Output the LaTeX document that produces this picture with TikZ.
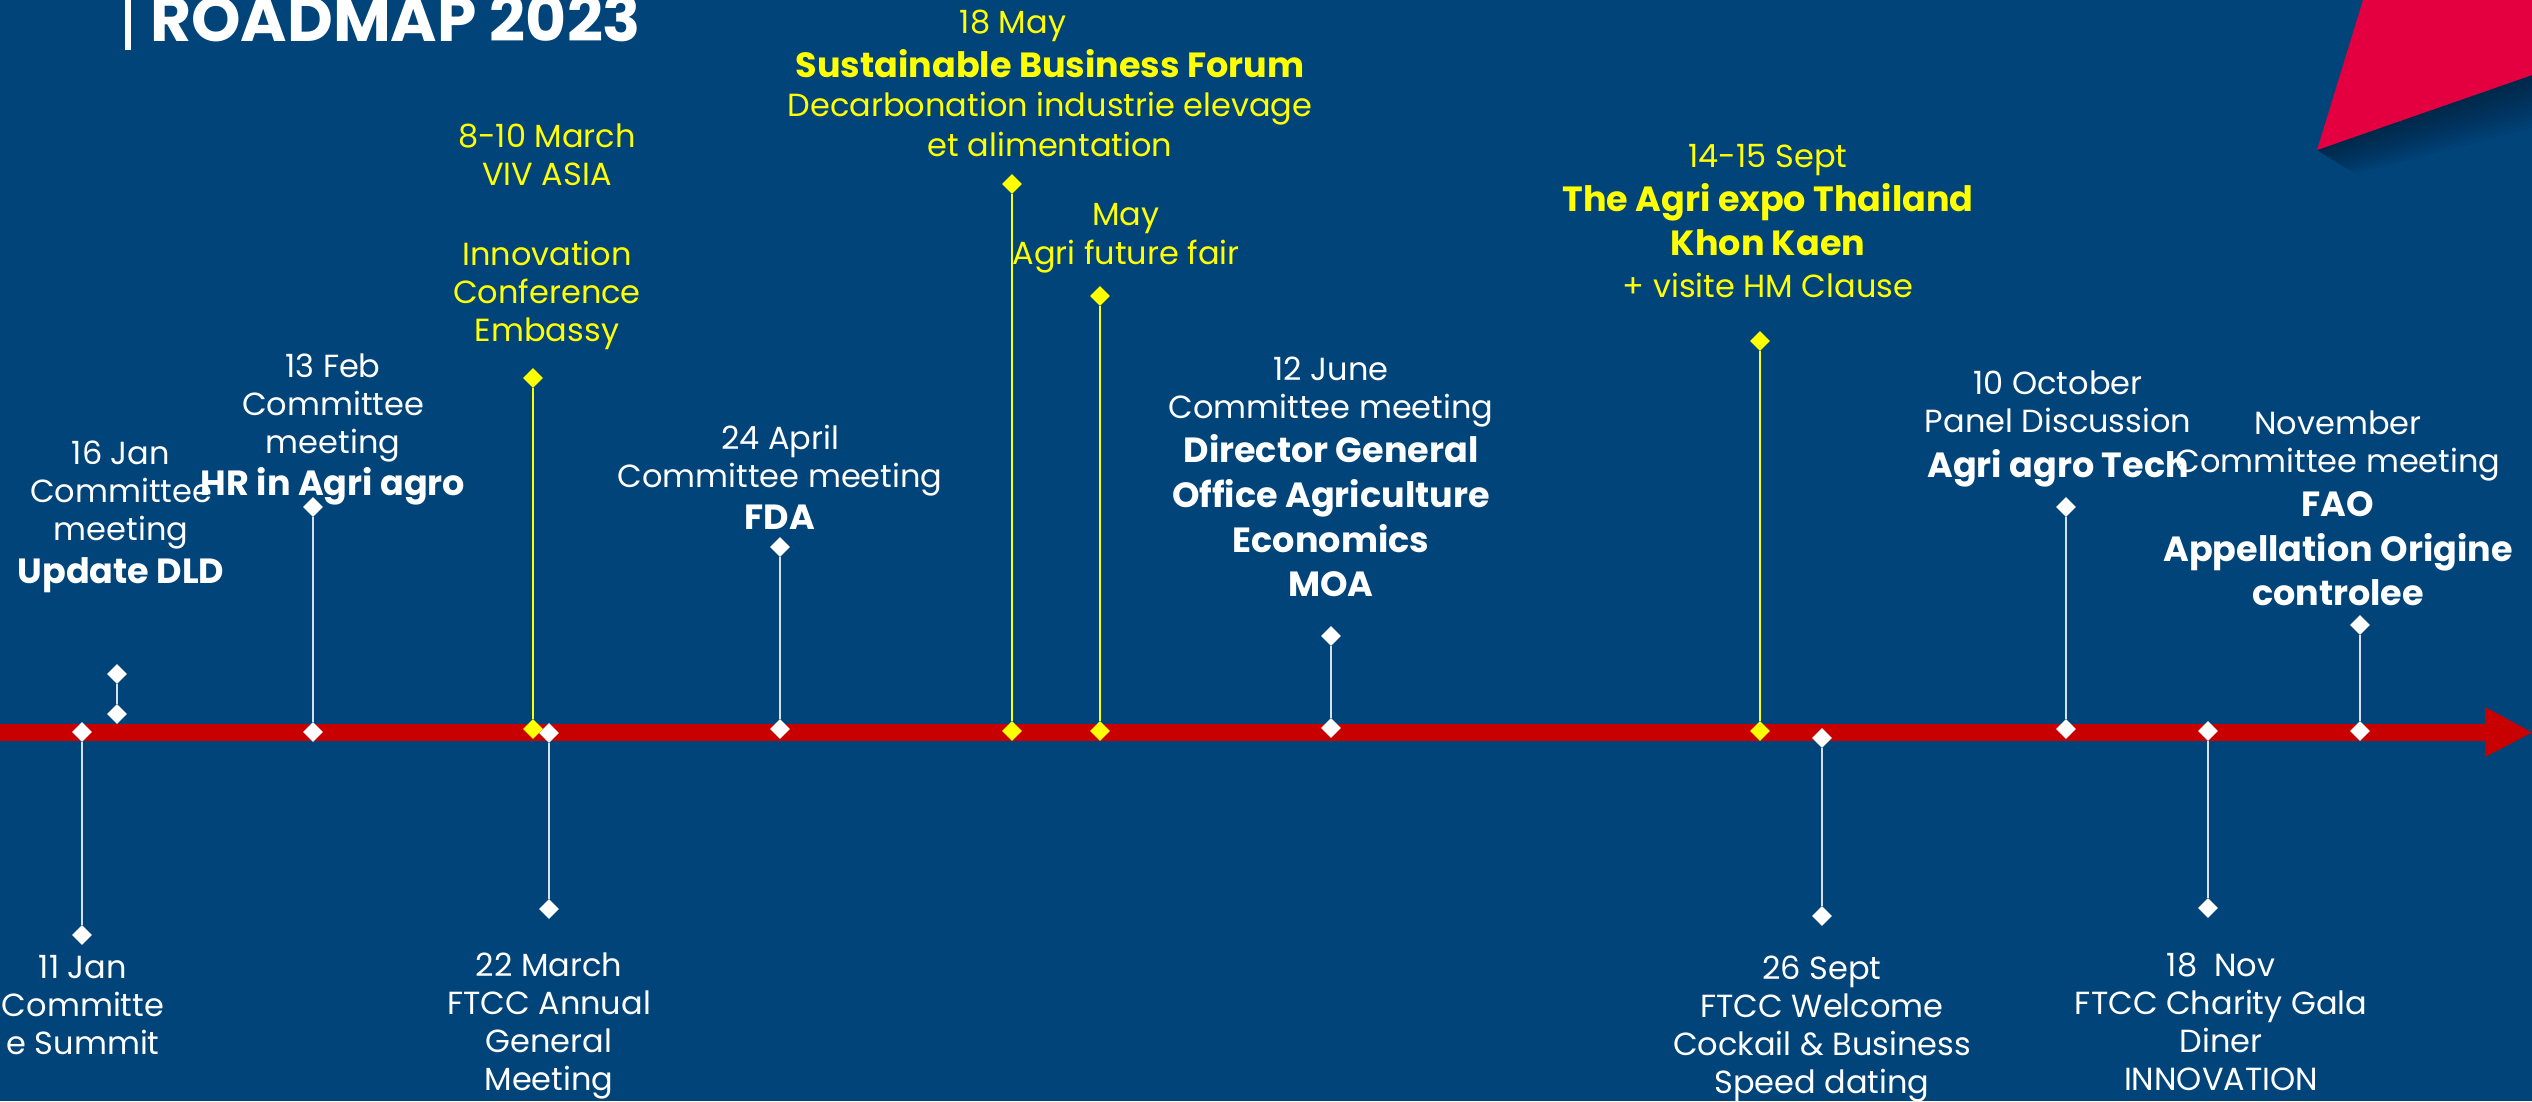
\documentclass[tikz,border=0pt]{standalone}
\usepackage{fontspec}
\setmainfont{Poppins}
\usetikzlibrary{shapes.geometric}
\definecolor{bg}{RGB}{0,68,122}
\definecolor{axisred}{RGB}{200,0,0}
\definecolor{accent}{RGB}{228,0,64}
\definecolor{ylw}{RGB}{255,255,0}
\definecolor{stemc}{RGB}{215,224,236}
\newcommand{\bl}[1]{{\fontsize{35}{38}\selectfont\bfseries #1}}
\tikzset{
  dia/.style={diamond, fill=white, inner sep=0pt, minimum width=20pt, minimum height=20pt},
  ydia/.style={dia, fill=ylw},
  wstem/.style={draw=stemc, line width=2pt},
  ystem/.style={draw=ylw, line width=2pt},
  lbl/.style={text=white, align=center, inner sep=0pt, anchor=north, font=\fontsize{32}{38}\selectfont},
  ylbl/.style={lbl, text=ylw},
}
\begin{document}
\begin{tikzpicture}[x=1pt,y=-1pt]
\useasboundingbox (0,0) rectangle (2532,1101);
\clip (0,0) rectangle (2532,1101);
\fill[bg] (0,0) rectangle (2532,1101);
% corner accent with soft shadow
\foreach \o in {48,44,...,4}{
  \fill[black, opacity=0.035] (2317+\o*0.8,150+\o*0.5) -- (2532,75+\o*1.1) -- (2532,75) -- (2317,150) -- cycle;
}
\fill[accent] (2363,0) -- (2532,0) -- (2532,75) -- (2317,150) -- cycle;
% title
\fill[white] (125,0) rectangle (131,50);
\node[anchor=base west, inner sep=0pt, text=white, font=\fontsize{63}{63}\selectfont\bfseries] (title) at (150,41) {ROADMAP 2023};
% axis
\coordinate (axL) at (0,732.5);
\coordinate (axR) at (2487,732.5);
\draw[axisred, line width=17pt] (axL) -- (axR);
\fill[axisred] (2485,707) -- (2532,732.5) -- (2485,757) -- cycle;

% 11 Jan / 16 Jan
\node[dia] (jan11a) at (82,732) {};
\node[dia] (jan11b) at (82,935) {};
\draw[wstem] (jan11a) -- (jan11b);
\node[lbl] (jan11l) at (83,955) {11 Jan\\Committe\\e Summit};
\node[dia] (jan16a) at (117,714) {};
\node[dia] (jan16b) at (117,674) {};
\draw[wstem] (jan16a) -- (jan16b);
\node[lbl] (jan16l) at (121,441) {16 Jan\\Committee\\meeting\\[5pt]\bl{Update DLD}};

% 13 Feb
\node[dia] (feba) at (313,732) {};
\node[dia] (febb) at (313,507) {};
\draw[wstem] (feba) -- (febb);
\node[lbl] (febl) at (333,354) {13 Feb\\Committee\\meeting\\[4pt]\bl{HR in Agri agro}};

% 8-10 March
\node[ydia] (mara) at (533,729) {};
\node[ydia] (marb) at (533,378) {};
\draw[ystem] (mara) -- (marb);
\node[ylbl] (marl) at (547,124) {8-10 March\\VIV ASIA\\[42pt]Innovation\\Conference\\Embassy};

% 22 March
\node[dia] (mar22a) at (549,733) {};
\node[dia] (mar22b) at (549,909) {};
\draw[wstem] (mar22a) -- (mar22b);
\node[lbl] (mar22l) at (549,953) {22 March\\FTCC Annual\\General\\Meeting};

% 24 April
\node[dia] (apra) at (780,729) {};
\node[dia] (aprb) at (780,547) {};
\draw[wstem] (apra) -- (aprb);
\node[lbl] (aprl) at (780,425) {24 April\\Committee meeting\\[4pt]\bl{FDA}};

% 18 May
\node[ydia] (may18a) at (1012,731) {};
\node[ydia] (may18b) at (1012,184) {};
\draw[ystem] (may18a) -- (may18b);
\node[ylbl] (may18d) at (1013,10) {18 May};
\node[ylbl] (may18l) at (1050,49) {\bl{Sustainable Business Forum}\\[1pt]Decarbonation industrie elevage\\[2pt]et alimentation};

% May
\node[ydia] (maya) at (1100,731) {};
\node[ydia] (mayb) at (1100,296) {};
\draw[ystem] (maya) -- (mayb);
\node[ylbl] (mayl) at (1126,203) {May\\[1pt]Agri future fair};

% 12 June
\node[dia] (juna) at (1331,728) {};
\node[dia] (junb) at (1331,636) {};
\draw[wstem] (juna) -- (junb);
\node[lbl] (junl) at (1331,357) {12 June\\Committee meeting\\[6pt]\bl{Director General}\\[7pt]\bl{Office Agriculture}\\[7pt]\bl{Economics}\\[6pt]\bl{MOA}};

% 14-15 Sept
\node[ydia] (sepa) at (1760,731) {};
\node[ydia] (sepb) at (1760,341) {};
\draw[ystem] (sepa) -- (sepb);
\node[ylbl] (sepl) at (1768,144) {14-15 Sept\\[6pt]\bl{The Agri expo Thailand}\\[6pt]\bl{Khon Kaen}\\[4pt]+ visite HM Clause};

% 26 Sept
\node[dia] (sep26a) at (1822,738) {};
\node[dia] (sep26b) at (1822,916) {};
\draw[wstem] (sep26a) -- (sep26b);
\node[lbl] (sep26l) at (1822,956) {26 Sept\\FTCC Welcome\\Cockail \& Business\\Speed dating};

% 10 October
\node[dia] (octa) at (2066,729) {};
\node[dia] (octb) at (2066,507) {};
\draw[wstem] (octa) -- (octb);
\node[lbl] (octl) at (2058,371) {10 October\\Panel Discussion\\[7pt]\bl{Agri agro Tech}};

% 18 Nov
\node[dia] (nov18a) at (2208,731) {};
\node[dia] (nov18b) at (2208,908) {};
\draw[wstem] (nov18a) -- (nov18b);
\node[lbl] (nov18l) at (2221,953) {18\ \ Nov\\FTCC Charity Gala\\Diner\\INNOVATION};

% November
\node[dia] (nova) at (2360,731) {};
\node[dia] (novb) at (2360,625) {};
\draw[wstem] (nova) -- (novb);
\node[lbl] (novl) at (2338,411) {November\\Committee meeting\\[6pt]\bl{FAO}\\[7pt]\bl{Appellation Origine}\\[6pt]\bl{controlee}};
\end{tikzpicture}
\end{document}
